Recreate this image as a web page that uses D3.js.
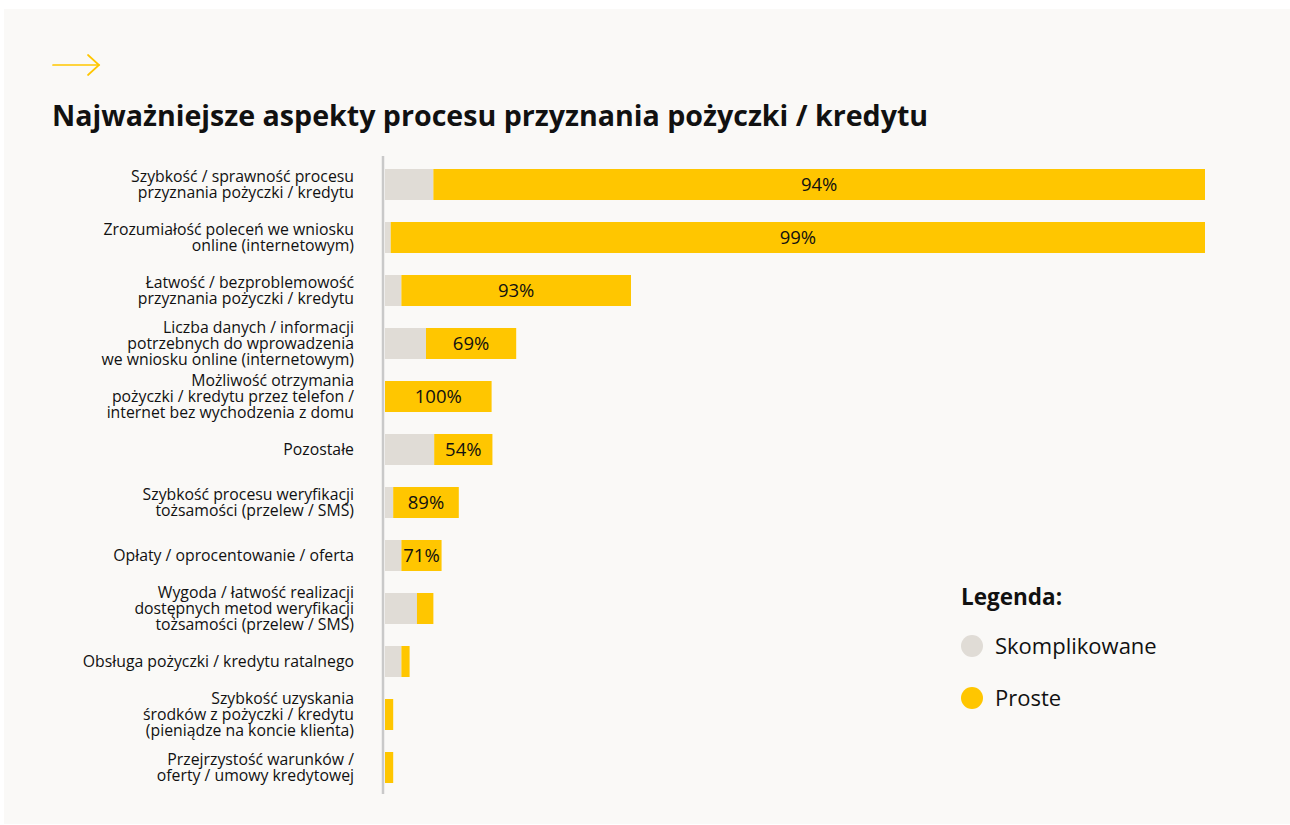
<!DOCTYPE html>
<html lang="pl">
<head>
<meta charset="utf-8">
<script src="https://cdn.jsdelivr.net/npm/d3@7"></script>
<style>
  html, body { margin: 0; padding: 0; background: #ffffff; }
  svg { display: block; }
  text { font-family: "Open Sans", "Noto Sans", sans-serif; }
</style>
</head>
<body>
<svg id="chart" width="1290" height="825"></svg>
<script>
// Aspects of the loan / credit granting process
const categories = [
  ["Szybkość / sprawność procesu", "przyznania pożyczki / kredytu"],
  ["Zrozumiałość poleceń we wniosku", "online (internetowym)"],
  ["Łatwość / bezproblemowość", "przyznania pożyczki / kredytu"],
  ["Liczba danych / informacji", "potrzebnych do wprowadzenia", "we wniosku online (internetowym)"],
  ["Możliwość otrzymania", "pożyczki / kredytu przez telefon /", "internet bez wychodzenia z domu"],
  ["Pozostałe"],
  ["Szybkość procesu weryfikacji", "tożsamości (przelew / SMS)"],
  ["Opłaty / oprocentowanie / oferta"],
  ["Wygoda / łatwość realizacji", "dostępnych metod weryfikacji", "tożsamości (przelew / SMS)"],
  ["Obsługa pożyczki / kredytu ratalnego"],
  ["Szybkość uzyskania", "środków z pożyczki / kredytu", "(pieniądze na koncie klienta)"],
  ["Przejrzystość warunków /", "oferty / umowy kredytowej"]
];

// Share of respondents (%) rating each aspect as complicated / simple
const skomplikowane = [5.9, 0.7, 2.0, 5.0, 0.0, 6.0, 1.0, 2.0, 3.9, 2.0, 0.0, 0.0];
const proste        = [94.1, 99.3, 28.0, 11.0, 13.0, 7.1, 8.0, 4.9, 2.0, 1.0, 1.0, 1.0];

const seriesNames = ["Skomplikowane", "Proste"];
const seriesColors = ["#e0dcd6", "#ffc600"];

const titleText = "Najważniejsze aspekty procesu przyznania pożyczki / kredytu";
const legendTitle = "Legenda:";

const svg = d3.select("#chart");

// panel background
svg.append("rect")
  .attr("x", 4).attr("y", 9)
  .attr("width", 1286).attr("height", 815)
  .attr("fill", "#faf9f7");

// decorative arrow
const arrow = svg.append("g")
  .attr("stroke", "#ffc600").attr("stroke-width", 1.7)
  .attr("fill", "none").attr("stroke-linecap", "round");
arrow.append("line").attr("x1", 53).attr("y1", 65).attr("x2", 99).attr("y2", 65);
arrow.append("polyline").attr("points", "88,55 99,65 88,75");

// title
svg.append("text")
  .attr("x", 52).attr("y", 126)
  .attr("font-size", 28.6).attr("font-weight", 700)
  .attr("fill", "#111")
  .text(titleText);

const rows = categories.map((c, i) => ({
  lines: c, s: skomplikowane[i], p: proste[i]
}));

const x = d3.scaleLinear().domain([0, 100]).range([385, 1205]);
const y = d3.scaleBand()
  .domain(d3.range(rows.length))
  .range([158, 794])
  .paddingInner(0.415)
  .paddingOuter(0.2075);

const stack = d3.stack().keys(["s", "p"]);
const stacked = stack(rows);

const layers = svg.append("g").selectAll("g")
  .data(stacked)
  .join("g")
  .attr("fill", (d, i) => seriesColors[i]);

layers.selectAll("rect")
  .data(d => d.map((v, i) => ({ v, i })))
  .join("rect")
  .attr("x", d => x(d.v[0]))
  .attr("y", d => y(d.i))
  .attr("width", d => x(d.v[1]) - x(d.v[0]))
  .attr("height", y.bandwidth());

// value labels: share of "Proste" answers, centered in the yellow segment
svg.append("g").selectAll("text")
  .data(rows.map((r, i) => ({ r, i })).filter(d => d.r.p >= 4))
  .join("text")
  .attr("x", d => (x(d.r.s) + x(d.r.s + d.r.p)) / 2)
  .attr("y", d => y(d.i) + y.bandwidth() / 2)
  .attr("dy", "0.36em")
  .attr("text-anchor", "middle")
  .attr("font-size", 18.5)
  .attr("fill", "#111")
  .text(d => Math.round(100 * d.r.p / (d.r.s + d.r.p)) + "%");

// category labels
const lineH = 15.8;
const labels = svg.append("g").selectAll("text")
  .data(rows.map((r, i) => ({ r, i })))
  .join("text")
  .attr("text-anchor", "end")
  .attr("font-size", 15.8)
  .attr("fill", "#111");
labels.each(function(d) {
  const n = d.r.lines.length;
  const cy = y(d.i) + y.bandwidth() / 2;
  d3.select(this).selectAll("tspan")
    .data(d.r.lines)
    .join("tspan")
    .attr("x", 354)
    .attr("y", (t, k) => cy + (k - (n - 1) / 2) * lineH)
    .attr("dy", "0.35em")
    .text(t => t);
});

// vertical axis line
svg.append("line")
  .attr("x1", 383).attr("x2", 383)
  .attr("y1", 156).attr("y2", 794)
  .attr("stroke", "#c9c9c9").attr("stroke-width", 2.5);

// legend
const lg = svg.append("g");
lg.append("text")
  .attr("x", 961).attr("y", 605)
  .attr("font-size", 22.5).attr("font-weight", 700)
  .attr("fill", "#111")
  .text(legendTitle);
const items = lg.selectAll("g.item")
  .data(seriesNames)
  .join("g")
  .attr("class", "item")
  .attr("transform", (d, i) => `translate(972, ${646 + i * 52})`);
items.append("circle").attr("r", 11).attr("fill", (d, i) => seriesColors[i]);
items.append("text")
  .attr("x", 23).attr("dy", "0.35em")
  .attr("font-size", 22).attr("fill", "#111")
  .text(d => d);
</script>
</body>
</html>
